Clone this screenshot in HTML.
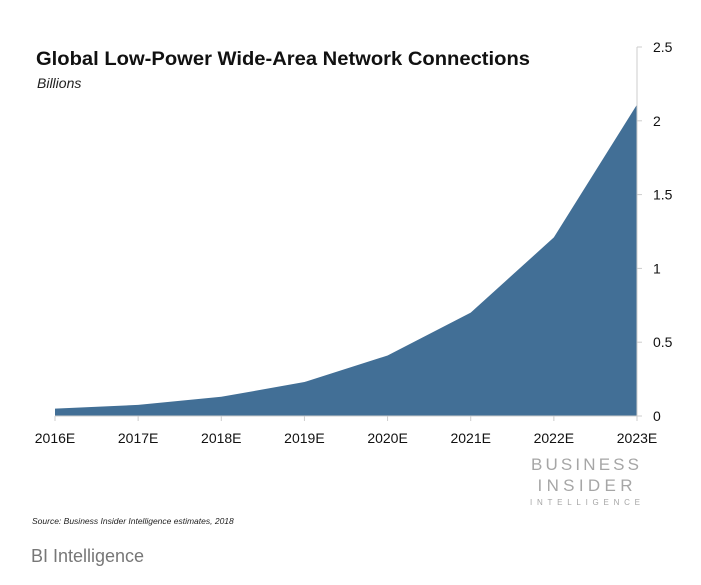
<!DOCTYPE html>
<html><head><meta charset="utf-8"><style>
body{margin:0;background:#fff;width:701px;height:580px;overflow:hidden;font-family:"Liberation Sans",sans-serif}
</style></head><body>
<svg width="701" height="580">
<text x="36" y="65" font-size="19.5" font-weight="bold" fill="#111" textLength="494" lengthAdjust="spacingAndGlyphs">Global Low-Power Wide-Area Network Connections</text>
<text x="37" y="88" font-size="14" font-style="italic" fill="#222">Billions</text>
<g id="plot"></g>
<text x="585" y="470" font-size="17" fill="#a6a6a6" text-anchor="middle" textLength="108" lengthAdjust="spacing">BUSINESS</text>
<text x="585" y="491" font-size="17" fill="#a6a6a6" text-anchor="middle" textLength="95" lengthAdjust="spacing">INSIDER</text>
<text x="585" y="505" font-size="8" fill="#a6a6a6" text-anchor="middle" textLength="110" lengthAdjust="spacing">INTELLIGENCE</text>
<text x="32" y="524" font-size="8.5" font-style="italic" fill="#222">Source: Business Insider Intelligence estimates, 2018</text>
<text x="31" y="562" font-size="18" fill="#777">BI Intelligence</text>
</svg>
<script>
const categories=["2016E","2017E","2018E","2019E","2020E","2021E","2022E","2023E"];
const values=[0.05,0.075,0.13,0.23,0.41,0.70,1.21,2.11];
const yTicks=[0,0.5,1,1.5,2,2.5];
const yTickLabels=["0","0.5","1","1.5","2","2.5"];
const NS="http://www.w3.org/2000/svg";
const g=document.getElementById("plot");
const x0=55,x1=637,yb=416,yt=47,ymax=2.5;
const xs=i=>x0+(x1-x0)*i/(categories.length-1);
const ys=v=>yb-(yb-yt)*v/ymax;
function mk(t,a){const e=document.createElementNS(NS,t);for(const k in a)e.setAttribute(k,a[k]);g.appendChild(e);return e;}
let d="M"+xs(0)+","+yb;
values.forEach((v,i)=>{d+=" L"+xs(i)+","+ys(v);});
d+=" L"+xs(values.length-1)+","+yb+" Z";
const area=mk("path",{d:d,fill:"#426f96"});


const xa=mk("line",{x1:x0,x2:x1,y1:yb,y2:yb,stroke:"#ccc"});


const ya=mk("line",{x1:x1,x2:x1,y1:yt,y2:yb,stroke:"#ccc"});


categories.forEach((c,i)=>{
  mk("line",{x1:xs(i),x2:xs(i),y1:yb,y2:yb+5,stroke:"#ccc"});
  const t=mk("text",{x:xs(i),y:yb+27,"font-size":14,"text-anchor":"middle",fill:"#111"});
  t.textContent=c;
  
  
});
yTicks.forEach((v,i)=>{
  mk("line",{x1:x1,x2:x1+5,y1:ys(v),y2:ys(v),stroke:"#ccc"});
  const t=mk("text",{x:x1+16,y:ys(v)+5,"font-size":14,fill:"#111"});
  t.textContent=yTickLabels[i];
  
  
});
</script>
</body></html>
